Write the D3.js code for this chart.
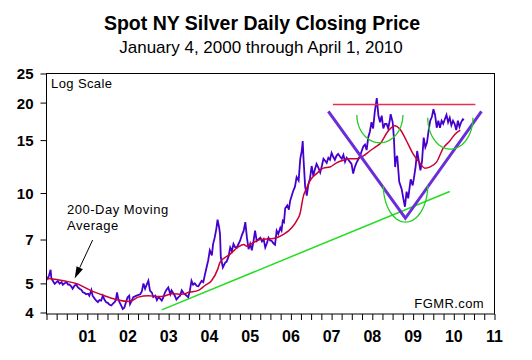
<!DOCTYPE html>
<html><head><meta charset="utf-8">
<script src="https://cdn.jsdelivr.net/npm/d3@7/dist/d3.min.js"></script>
<style>body{margin:0;background:#fff}svg{display:block}</style>
</head><body>
<svg id="c" width="532" height="360"></svg>
<script>
// ---- data (decimal years, USD/oz) ----
const priceYears = [2000.00,2000.03,2000.06,2000.10,2000.12,2000.15,2000.20,2000.24,2000.28,2000.32,2000.37,2000.40,2000.44,2000.49,2000.53,2000.56,2000.61,2000.64,2000.69,2000.73,2000.77,2000.81,2000.86,2000.89,2000.93,2000.97,
2001.02,2001.05,2001.10,2001.13,2001.18,2001.21,2001.26,2001.30,2001.34,2001.38,2001.42,2001.46,2001.51,2001.54,2001.59,2001.63,2001.67,2001.70,2001.73,2001.76,2001.79,2001.84,2001.87,2001.91,2001.95,2001.99,
2002.03,2002.05,2002.08,2002.13,2002.21,2002.30,2002.34,2002.38,2002.42,2002.46,2002.50,2002.54,2002.59,2002.62,2002.67,2002.71,2002.75,2002.79,2002.83,2002.87,2002.91,2002.95,2002.99,
2003.04,2003.07,2003.11,2003.15,2003.19,2003.24,2003.28,2003.32,2003.36,2003.40,2003.44,2003.48,2003.52,2003.56,2003.60,2003.64,2003.69,2003.73,2003.77,2003.81,2003.85,2003.89,2003.93,2003.97,
2004.01,2004.06,2004.09,2004.13,2004.17,2004.20,2004.24,2004.26,2004.28,2004.33,2004.39,2004.42,2004.47,2004.51,2004.55,2004.59,2004.63,2004.67,2004.71,2004.75,2004.79,2004.84,2004.88,2004.92,2004.96,
2005.00,2005.04,2005.08,2005.12,2005.16,2005.20,2005.25,2005.29,2005.33,2005.37,2005.41,2005.45,2005.49,2005.53,2005.57,2005.61,2005.65,2005.69,2005.74,2005.77,2005.80,2005.83,2005.86,2005.91,2005.95,2005.98,
2006.02,2006.05,2006.10,2006.14,2006.19,2006.23,2006.27,2006.29,2006.31,2006.35,2006.39,2006.43,2006.47,2006.51,2006.55,2006.59,2006.63,2006.68,2006.72,2006.76,2006.80,2006.84,2006.88,2006.92,2006.96,
2007.00,2007.04,2007.08,2007.12,2007.16,2007.21,2007.25,2007.29,2007.33,2007.37,2007.41,2007.45,2007.49,2007.53,2007.57,2007.61,2007.65,2007.70,2007.74,2007.78,2007.82,2007.86,2007.90,2007.94,2007.98,
2008.02,2008.06,2008.11,2008.15,2008.19,2008.23,2008.27,2008.31,2008.35,2008.39,2008.43,2008.45,2008.50,2008.53,2008.56,2008.58,2008.61,2008.66,2008.72,2008.76,2008.80,2008.84,2008.88,2008.94,2008.99,
2009.02,2009.06,2009.10,2009.14,2009.18,2009.22,2009.26,2009.30,2009.34,2009.38,2009.42,2009.46,2009.50,2009.54,2009.58,2009.62,2009.66,2009.70,2009.74,2009.78,2009.82,2009.86,2009.90,2009.94,2009.98,
2010.02,2010.06,2010.10,2010.14,2010.18,2010.22,2010.25];
const priceValues = [5.25,5.18,5.30,5.55,5.20,5.11,4.98,5.04,5.10,4.99,5.05,4.95,5.00,5.05,4.95,4.96,4.88,4.80,4.92,4.95,4.85,4.80,4.75,4.67,4.65,4.60,
4.62,4.55,4.75,4.55,4.45,4.40,4.33,4.40,4.38,4.55,4.42,4.33,4.30,4.25,4.22,4.28,4.33,4.40,4.67,4.45,4.33,4.20,4.11,4.15,4.33,4.50,
4.55,4.27,4.35,4.50,4.55,4.60,4.70,5.00,4.80,4.95,5.10,4.73,4.65,4.50,4.55,4.40,4.50,4.45,4.38,4.50,4.67,4.77,4.85,
4.60,4.74,4.65,4.55,4.42,4.50,4.55,4.74,4.65,4.60,4.55,4.50,4.73,5.10,4.95,5.00,4.90,4.89,5.00,5.10,5.05,5.35,5.65,5.96,
6.44,6.20,6.76,7.10,7.60,8.15,7.66,7.30,6.10,5.65,5.87,5.90,6.15,6.58,6.40,6.77,6.60,6.58,6.75,6.92,7.20,7.49,8.00,7.10,6.50,
6.77,6.44,6.90,7.49,6.92,7.00,7.10,6.90,7.02,6.58,6.80,7.10,6.95,6.92,6.80,6.73,7.49,7.30,7.66,7.50,8.08,8.00,8.90,9.10,8.80,9.40,
9.80,10.10,10.50,11.30,11.00,13.00,13.90,14.90,13.00,10.50,9.80,10.70,11.20,12.30,11.40,12.00,12.50,12.10,11.70,12.30,13.00,12.80,12.60,13.10,12.90,
13.60,13.20,12.90,13.30,13.50,13.20,13.00,13.40,12.70,13.10,12.90,12.70,12.50,11.60,12.20,12.60,12.90,13.30,13.80,14.30,14.50,13.90,15.30,16.00,17.20,
16.40,18.60,20.70,18.10,17.20,18.10,16.40,17.00,17.00,16.40,17.50,18.30,17.20,15.20,12.20,13.00,13.30,10.90,10.30,9.60,9.00,10.10,9.60,11.10,10.60,
11.20,12.20,13.80,12.80,11.90,12.80,15.30,14.20,14.70,16.10,17.40,17.90,19.00,18.20,16.50,17.40,16.50,17.40,17.0,17.6,18.2,17.2,17.8,16.8,17.4,
17.0,16.2,17.4,16.6,17.2,17.6,17.5];
const maYears = [2000.00,2000.42,2000.76,2001.09,2001.42,2001.75,2002.03,2002.25,2002.50,2002.75,2002.92,2003.08,2003.33,2003.50,2003.73,2003.89,2004.05,2004.21,2004.26,2004.51,2004.70,2004.84,2004.92,2005.00,2005.25,2005.57,2005.82,2006.02,2006.14,2006.22,2006.31,2006.39,2006.47,2006.63,2006.80,2006.96,2007.12,2007.29,2007.45,2007.61,2007.78,2007.94,2008.10,2008.19,2008.39,2008.55,2008.68,2008.84,2009.00,2009.16,2009.29,2009.41,2009.58,2009.74,2009.90,2010.03,2010.16];
const maValues = [5.20,5.10,4.98,4.73,4.55,4.40,4.35,4.50,4.55,4.52,4.55,4.62,4.60,4.67,4.74,4.92,5.10,5.60,5.87,6.26,6.60,6.74,6.65,6.74,7.00,7.05,7.28,7.66,8.08,8.50,9.80,10.40,11.00,11.60,12.10,12.20,12.60,12.85,13.00,13.00,13.30,13.80,14.30,14.60,16.10,16.75,16.30,14.90,13.50,12.60,12.10,12.20,12.70,14.10,14.90,15.70,16.20];
// annotation lines (decimal year, price)
const supportYears = [2002.83, 2009.90];
const supportValues = [4.08, 10.12];
const resistYears = [2007.03, 2010.53];
const resistValues = [19.7, 19.7];
const vYears = [2006.92, 2008.81, 2010.68];
const vValues = [18.7, 8.24, 18.7];
// green arcs: [leftYear, rightYear, rimValue, bottomValue]
const arcLeft = [2007.62, 2009.36, 2008.27];
const arcRight = [2008.75, 2010.47, 2009.36];
const arcRim = [18.2, 17.8, 10.6];
const arcBottom = [14.7, 14.0, 8.0];
const arrowFrom = [2001.13, 6.97];
const arrowTo = [2000.69, 5.19];
const yTicks = [4,5,7,10,15,20,25];
const xTickLabels = ["01","02","03","04","05","06","07","08","09","10","11"];

// ---- drawing ----
const yr = v => { const y = Math.floor(v), f = v - y; const a = new Date(y,0,1), b = new Date(y+1,0,1); return new Date(+a + f*(b-a)); };
const svg = d3.select("#c");
const font = "'Liberation Sans', Arial, sans-serif";
const x = d3.scaleTime().domain([new Date(2000,0,1), new Date(2011,0,1)]).range([46.5, 494.5]);
const y = d3.scaleLog().domain([4,25]).range([312.5, 73.5]);

svg.append("text").attr("x",262).attr("y",30).attr("text-anchor","middle")
  .style("font-family",font).style("font-weight","bold").style("font-size","19.5px").text("Spot NY Silver Daily Closing Price");
svg.append("text").attr("x",261).attr("y",53).attr("text-anchor","middle")
  .style("font-family",font).style("font-size","17px").text("January 4, 2000 through April 1, 2010");

const plot = svg.append("g");
plot.append("defs").append("clipPath").attr("id","clip").append("rect").attr("x",47).attr("y",74).attr("width",447).attr("height",239);

// y axis
const yAxis = d3.axisLeft(y).tickValues(yTicks).tickFormat(d3.format("d")).tickSize(6).tickPadding(7);
const gy = svg.append("g").attr("transform","translate(46.5,0)").call(yAxis);
gy.select(".domain").remove();
gy.selectAll("text").style("font-family",font).style("font-weight","bold").style("font-size","15px").attr("dy","0.36em");
// x axis quarterly ticks
const xAxis = d3.axisBottom(x).ticks(d3.timeMonth.every(3)).tickFormat("").tickSize(6);
const gx = svg.append("g").attr("transform","translate(0,314)").call(xAxis);
gx.select(".domain").remove();
const years = d3.range(1, 12).map(i => new Date(2000+i,0,1));
svg.append("g").selectAll("text").data(years).join("text")
  .attr("x", d => x(d)).attr("y", 342).attr("text-anchor","middle")
  .style("font-family",font).style("font-weight","bold").style("font-size","16px")
  .text((d,i) => xTickLabels[i]);

// frame
svg.append("rect").attr("x",46.5).attr("y",73.5).attr("width",448).attr("height",240.5).attr("fill","none").attr("stroke","#000").attr("stroke-width",1);

const g = svg.append("g").attr("clip-path","url(#clip)");
const line = d3.line().x(d => x(yr(d[0]))).y(d => y(d[1]));

// support line (green)
g.append("path").datum(d3.zip(supportYears, supportValues)).attr("d", line).attr("fill","none").attr("stroke","#22dd22").attr("stroke-width",1.5);
// price
g.append("path").datum(d3.zip(priceYears, priceValues)).attr("d", line).attr("fill","none").attr("stroke","#4400cc").attr("stroke-width",1.8).attr("stroke-linejoin","miter");
// MA
g.append("path").datum(d3.zip(maYears, maValues)).attr("d", d3.line().curve(d3.curveMonotoneX).x(d => x(yr(d[0]))).y(d => y(d[1])))
  .attr("fill","none").attr("stroke","#cc0033").attr("stroke-width",1.5);
// resistance line
g.append("path").datum(d3.zip(resistYears, resistValues)).attr("d", line).attr("fill","none").attr("stroke","#e8304a").attr("stroke-width",1.5);
// V
g.append("path").datum(d3.zip(vYears, vValues)).attr("d", line).attr("fill","none").attr("stroke","#6a2ed8").attr("stroke-width",3);
// arcs
arcLeft.forEach((l,i) => {
  const x0 = x(yr(l)), x1 = x(yr(arcRight[i])), yt = y(arcRim[i]), yb = y(arcBottom[i]);
  const cx = (x0+x1)/2, rx = (x1-x0)/2, ry = yb-yt;
  const pts = d3.range(0, 181, 5).map(a => [cx - rx*Math.cos(a*Math.PI/180), yt + ry*Math.sin(a*Math.PI/180)]);
  g.append("path").attr("d", d3.line()(pts)).attr("fill","none").attr("stroke","#22cc22").attr("stroke-width",1.3);
});

// labels
svg.append("text").attr("x",51).attr("y",88).style("font-family",font).style("font-size","13px").style("letter-spacing","0.4px").text("Log Scale");
svg.append("text").attr("x",484).attr("y",308).attr("text-anchor","end").style("font-family",font).style("font-size","13px").style("letter-spacing","0.4px").text("FGMR.com");
svg.append("text").attr("x",67).attr("y",214).style("font-family",font).style("font-size","13px").style("letter-spacing","0.5px").text("200-Day Moving");
svg.append("text").attr("x",67).attr("y",230).style("font-family",font).style("font-size","13px").style("letter-spacing","0.5px").text("Average");

// arrow
const ax0 = x(yr(arrowFrom[0])), ay0 = y(arrowFrom[1]), ax1 = x(yr(arrowTo[0])), ay1 = y(arrowTo[1]);
const ang = Math.atan2(ay1-ay0, ax1-ax0), hl = 12, hw = 3.5;
const bx = ax1 - hl*Math.cos(ang), by = ay1 - hl*Math.sin(ang);
svg.append("line").attr("x1",ax0).attr("y1",ay0).attr("x2",bx).attr("y2",by).attr("stroke","#000").attr("stroke-width",1);
svg.append("path").attr("d", `M${ax1},${ay1}L${bx - hw*Math.sin(ang)},${by + hw*Math.cos(ang)}L${bx + hw*Math.sin(ang)},${by - hw*Math.cos(ang)}Z`).attr("fill","#000");
</script>
</body></html>
